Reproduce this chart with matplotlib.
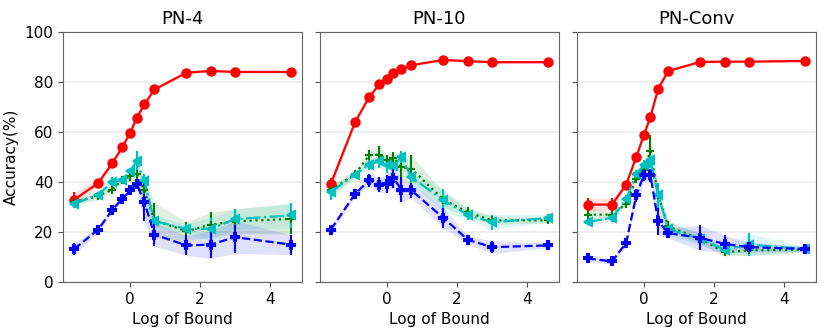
import numpy as np
import matplotlib
matplotlib.use('Agg')
import matplotlib.pyplot as plt

# bounds used in the experiment, plotted on a log scale
bounds = [0.2, 0.4, 0.6, 0.8, 1.0, 1.2, 1.5, 2.0, 5.0, 10.0, 20.0, 100.0]
log_bound = np.log(bounds)

titles = ['PN-4', 'PN-10', 'PN-Conv']

# mean accuracies (%) per panel
red_mean = [
    [32.9, 39.6, 47.6, 54.0, 59.7, 65.6, 71.0, 77.0, 83.7, 84.4, 84.0, 84.0],
    [39.3, 64.0, 74.0, 79.0, 81.3, 83.6, 85.0, 86.7, 88.8, 88.3, 87.9, 87.9],
    [31.0, 31.0, 39.0, 50.0, 59.0, 66.0, 77.3, 84.4, 88.0, 88.1, 88.1, 88.4],
]
green_mean = [
    [32.0, 34.4, 37.0, 41.0, 42.3, 43.3, 36.7, 24.7, 20.4, 23.0, 24.3, 25.3],
    [36.7, 43.3, 50.7, 51.0, 48.7, 49.7, 46.0, 45.3, 33.0, 28.0, 24.7, 24.7],
    [27.0, 27.0, 31.3, 41.3, 45.0, 52.3, 34.7, 22.3, 17.3, 12.0, 12.7, 13.0],
]
cyan_mean = [
    [31.3, 35.0, 40.0, 41.0, 44.3, 48.3, 40.4, 24.4, 21.3, 21.3, 25.2, 26.7],
    [36.0, 43.0, 47.0, 48.3, 46.7, 46.4, 50.0, 42.0, 32.7, 27.0, 24.0, 25.6],
    [24.0, 25.7, 33.3, 43.3, 46.7, 48.7, 34.7, 21.3, 17.3, 13.0, 15.0, 13.3],
]
blue_mean = [
    [13.2, 21.0, 29.0, 33.3, 36.7, 39.3, 32.0, 19.0, 14.7, 15.0, 18.0, 15.0],
    [21.0, 35.3, 40.7, 39.0, 39.3, 41.7, 37.0, 36.7, 25.7, 17.0, 14.0, 14.7],
    [9.5, 8.3, 15.7, 34.7, 43.0, 42.7, 24.3, 19.6, 17.7, 15.3, 14.0, 13.3],
]

# standard deviations per panel
red_std = [
    [3.0, 1.5, 0.8, 0.6, 0.6, 0.6, 0.6, 0.5, 0.5, 0.5, 0.5, 0.5],
    [2.5, 0.8, 0.6, 0.6, 0.5, 0.5, 0.5, 0.5, 0.5, 0.5, 0.5, 0.5],
    [2.5, 2.5, 0.6, 0.6, 0.5, 0.5, 0.5, 0.5, 0.5, 0.5, 0.5, 0.5],
]
green_std = [
    [1.0, 1.5, 1.5, 1.5, 2.0, 3.0, 5.0, 7.0, 3.7, 5.0, 5.0, 6.0],
    [2.0, 1.5, 2.0, 3.5, 2.0, 2.5, 4.0, 5.5, 3.0, 2.0, 1.5, 1.0],
    [3.0, 1.0, 1.5, 1.5, 1.5, 6.5, 3.0, 2.0, 2.0, 1.5, 2.0, 1.0],
]
cyan_std = [
    [1.5, 1.0, 2.0, 1.0, 1.5, 4.0, 3.0, 2.0, 2.0, 4.5, 4.0, 5.0],
    [3.0, 1.0, 2.0, 2.5, 3.0, 3.0, 2.5, 2.5, 4.5, 2.0, 3.0, 1.5],
    [1.0, 1.5, 1.5, 1.5, 2.0, 3.0, 5.0, 2.5, 2.5, 1.5, 4.5, 1.0],
]
blue_std = [
    [2.5, 1.0, 1.5, 1.0, 1.0, 1.5, 7.7, 4.7, 4.0, 5.5, 6.5, 4.0],
    [1.5, 1.0, 2.5, 3.0, 3.5, 4.0, 5.0, 3.0, 4.0, 1.5, 2.5, 1.0],
    [1.5, 1.0, 1.5, 2.5, 2.5, 2.5, 5.5, 2.0, 5.0, 3.5, 2.0, 1.0],
]

series = [
    (red_mean, red_std, 'red', '-', 'o'),
    (green_mean, green_std, 'green', ':', '+'),
    (cyan_mean, cyan_std, 'c', '-.', '<'),
    (blue_mean, blue_std, 'blue', '--', 'P'),
]

fig, axes = plt.subplots(1, 3, figsize=(8.3, 3.32), dpi=100, sharey=True)
fig.subplots_adjust(left=0.076, right=0.983, top=0.904, bottom=0.15, wspace=0.075)

for i, ax in enumerate(axes):
    for mean, std, color, ls, mk in series:
        m = np.array(mean[i])
        s = np.array(std[i])
        ax.fill_between(log_bound, m - s, m + s, color=color, alpha=0.12, lw=0)
        ax.errorbar(log_bound, m, yerr=s, color=color, ls=ls, marker=mk,
                    lw=1.6, ms=6, mew=1.5, elinewidth=1.5, capsize=0)
    ax.set_title(titles[i], fontsize=13)
    ax.set_xlabel('Log of Bound', fontsize=11)
    ax.set_ylim(0, 100)
    ax.set_xticks([0, 2, 4])
    ax.set_yticks([0, 20, 40, 60, 80, 100])
    ax.grid(axis='y', color='#ebebeb', lw=1.2)
    ax.set_axisbelow(True)
    ax.tick_params(labelsize=11, color='#555555')
    for sp in ax.spines.values():
        sp.set_color('#666666')

axes[0].set_ylabel('Accuracy(%)', fontsize=11)

plt.savefig('out.png', dpi=100)
